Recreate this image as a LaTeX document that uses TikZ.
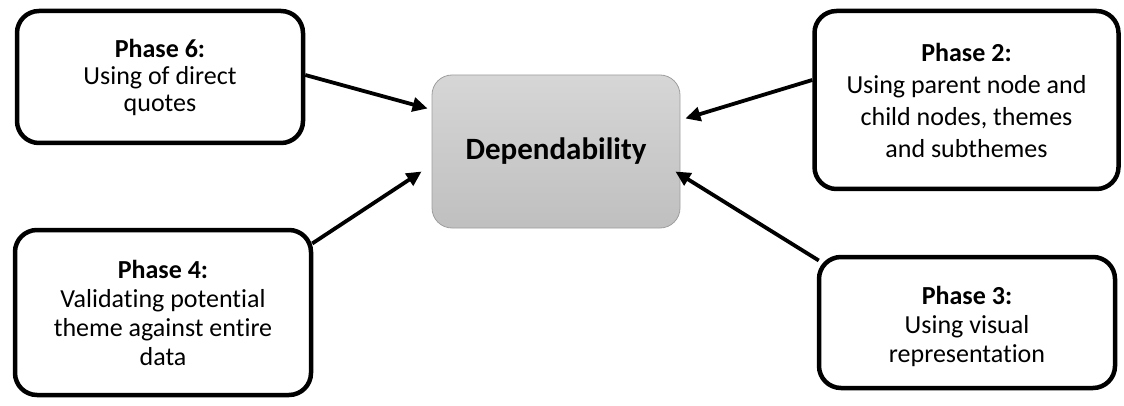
\documentclass[tikz,border=0pt]{standalone}
\usepackage{fontspec}
\setmainfont{Carlito}[Ligatures=NoCommon]
\usetikzlibrary{arrows.meta}
\begin{document}
\begin{tikzpicture}[x=1pt,y=-1pt,
  phase/.style={draw=black, line width=4.5pt, rounded corners=22pt, fill=white,
    align=center, inner sep=0pt, font=\fontsize{26}{30}\selectfont},
  core/.style={draw=black!38, line width=0.8pt, rounded corners=20pt,
    top color=black!16, bottom color=black!25, align=center, inner sep=0pt,
    font=\fontsize{31}{36}\selectfont\bfseries},
  link/.style={line width=3.8pt, -{Triangle[length=15pt,width=14pt]}},
]
\useasboundingbox (0,0) rectangle (1124,406);

% central concept
\node[core, minimum width=248pt, minimum height=153pt] (dep) at (556,151.5) {Dependability};

% phase boxes
\node[phase, minimum width=286pt, minimum height=132pt,
  font=\fontsize{26}{27}\selectfont] (p6) at (160,77)
  {\textbf{Phase 6:}\\Using of direct\\quotes};
\node[phase, minimum width=304pt, minimum height=178pt,
  font=\fontsize{26}{32}\selectfont] (p2) at (966.5,100)
  {\textbf{Phase 2:}\\Using parent node and\\child nodes, themes\\and subthemes};
\node[phase, minimum width=296pt, minimum height=165pt,
  font=\fontsize{26}{29}\selectfont] (p4) at (163,312.5)
  {\textbf{Phase 4:}\\Validating potential\\theme against entire\\data};
\node[phase, minimum width=296pt, minimum height=131pt,
  font=\fontsize{26}{29}\selectfont] (p3) at (967,322.5)
  {\rule{0pt}{26pt}\textbf{Phase 3:}\\Using visual\\representation};

% arrow end points on the box borders
\coordinate (p6out) at ([yshift=2pt]p6.east);
\coordinate (p2out) at ([yshift=20pt]p2.west);
\coordinate (p4out) at ([xshift=-1pt,yshift=69pt]p4.east);
\coordinate (p3out) at ([xshift=2pt,yshift=62pt]p3.west);
\coordinate (d6) at ([xshift=-4pt,yshift=43pt]dep.west);
\coordinate (d4) at ([xshift=-10pt,yshift=-20pt]dep.west);
\coordinate (d2) at ([xshift=5pt,yshift=33pt]dep.east);
\coordinate (d3) at ([xshift=-5pt,yshift=-20pt]dep.east);

\draw[link] (p6out) -- (d6);
\draw[link] (p4out) -- (d4);
\draw[link] (p2out) -- (d2);
\draw[link] (p3out) -- (d3);
\end{tikzpicture}
\end{document}
